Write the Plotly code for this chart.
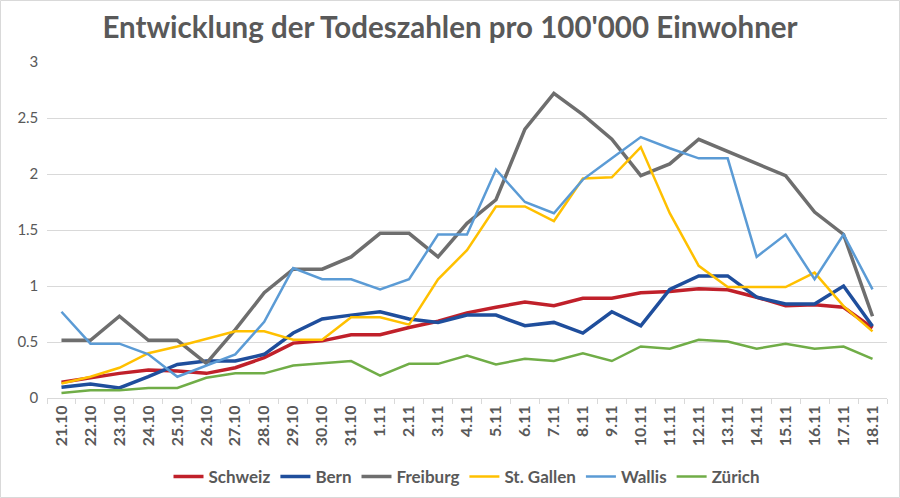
import plotly.graph_objects as go

dates = ["21.10","22.10","23.10","24.10","25.10","26.10","27.10","28.10","29.10","30.10","31.10",
         "1.11","2.11","3.11","4.11","5.11","6.11","7.11","8.11","9.11","10.11","11.11","12.11",
         "13.11","14.11","15.11","16.11","17.11","18.11"]

schweiz = [0.14,0.18,0.22,0.25,0.24,0.22,0.27,0.36,0.49,0.51,0.565,0.565,0.63,0.685,0.76,0.81,0.857,0.824,0.89,
           0.89,0.94,0.95,0.976,0.967,0.90,0.824,0.833,0.81,0.625]
bern = [0.095,0.125,0.09,0.19,0.30,0.33,0.33,0.39,0.58,0.705,0.74,0.77,0.705,0.675,0.74,0.74,0.645,0.675,0.58,
        0.77,0.645,0.97,1.09,1.09,0.90,0.84,0.84,1.00,0.64]
freiburg = [0.515,0.515,0.73,0.515,0.515,0.31,0.61,0.94,1.15,1.15,1.26,1.47,1.47,1.26,1.56,1.77,2.40,2.72,2.53,
            2.31,1.985,2.09,2.31,2.20,2.09,1.985,1.66,1.46,0.73]
stgallen = [0.13,0.19,0.27,0.40,0.46,0.53,0.595,0.595,0.52,0.52,0.72,0.72,0.655,1.06,1.32,1.71,1.71,1.58,1.96,
            1.97,2.24,1.65,1.18,0.99,0.99,0.99,1.12,0.82,0.595]
wallis = [0.77,0.485,0.485,0.39,0.19,0.29,0.39,0.68,1.16,1.06,1.06,0.97,1.06,1.46,1.46,2.04,1.75,1.65,1.95,
          2.14,2.33,2.23,2.14,2.14,1.26,1.46,1.06,1.46,0.97]
zuerich = [0.045,0.07,0.07,0.09,0.09,0.18,0.22,0.22,0.29,0.31,0.33,0.20,0.305,0.305,0.38,0.30,0.35,0.33,0.40,
           0.33,0.46,0.44,0.52,0.505,0.44,0.485,0.44,0.46,0.35]

series = [
    ("Schweiz", schweiz, "#C0202A", 3.5),
    ("Bern", bern, "#1F4E9C", 3.5),
    ("Freiburg", freiburg, "#6E6E6E", 3.5),
    ("St. Gallen", stgallen, "#FFC000", 2.5),
    ("Wallis", wallis, "#5B9BD5", 2.5),
    ("Zürich", zuerich, "#70AD47", 2.5),
]

fig = go.Figure()
for name, vals, color, w in series:
    fig.add_trace(go.Scatter(x=dates, y=vals, mode="lines", name="<b>" + name + "</b>",
                             line=dict(color=color, width=w)))

gray = "#595959"
fig.update_layout(
    width=900, height=498,
    paper_bgcolor="white", plot_bgcolor="white",
    margin=dict(l=47, r=13, t=62, b=100, autoexpand=False),
    title=dict(text="<b>Entwicklung der Todeszahlen pro 100'000 Einwohner</b>",
               x=0.5, xanchor="center", y=0.944, yanchor="middle",
               font=dict(family="Lato", size=29.5, color=gray)),
    font=dict(family="Lato", color=gray),
    showlegend=True,
    legend=dict(orientation="h", x=0.5, xanchor="center", y=-0.235, yanchor="middle",
                font=dict(family="Lato", size=17, color=gray),
                traceorder="normal", itemwidth=30),
    xaxis=dict(type="category", tickangle=-90, tickson="boundaries", ticks="outside",
               ticklen=5, tickcolor="#D9D9D9", showgrid=False, showline=True,
               linecolor="#D9D9D9", linewidth=1,
               tickmode="array", tickvals=dates, ticktext=["<b>" + d + "</b>" for d in dates],
               tickfont=dict(family="Lato", size=16, color=gray),
               range=[-0.5, len(dates) - 0.5]),
    yaxis=dict(range=[0, 3], dtick=0.5, showgrid=True, gridcolor="#D9D9D9", gridwidth=1,
               zeroline=False, showline=False, ticks="",
               tickfont=dict(family="Lato", size=15, color=gray), ticksuffix="  "),
    shapes=[dict(type="rect", xref="paper", yref="paper",
                 x0=-46.5/840, x1=1 + 12.5/840, y0=-99.5/336, y1=1 + 61.5/336,
                 line=dict(color="#D9D9D9", width=1), fillcolor="rgba(0,0,0,0)", layer="below")],
)

fig.write_html("out.html", config={"displayModeBar": False},
               post_script="document.body.style.margin='0';document.body.style.overflow='hidden';")
